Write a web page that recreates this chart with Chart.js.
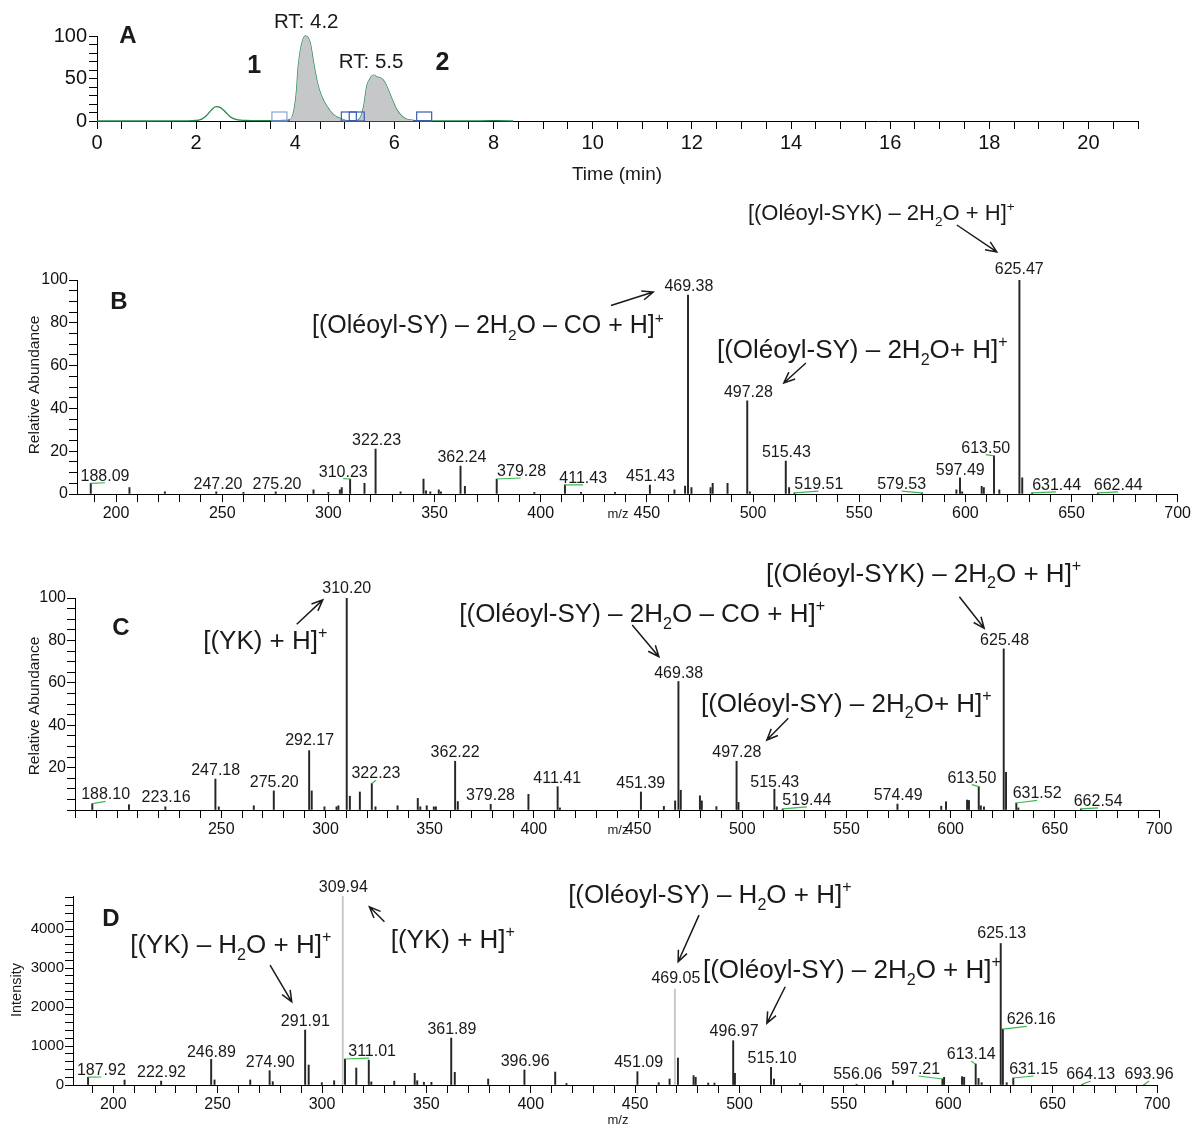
<!DOCTYPE html>
<html>
<head>
<meta charset="utf-8">
<script src="https://cdn.jsdelivr.net/npm/chart.js@4.4.1/dist/chart.umd.min.js"></script>
<style>
    body { margin: 0; background: #fff; width: 1193px; height: 1128px; overflow: hidden; position: relative; }
    canvas { position: absolute; left: 0; }
</style>
</head>
<body>
<canvas id="chartA" width="1193" height="190" style="top:0px"></canvas>
<canvas id="chartB" width="1193" height="330" style="top:190px"></canvas>
<canvas id="chartC" width="1193" height="335" style="top:520px"></canvas>
<canvas id="chartD" width="1193" height="273" style="top:855px"></canvas>
<script>
const FONT = '"Liberation Sans", Arial, Helvetica, sans-serif';

// Panel A - extracted ion chromatogram (time in min, relative signal)
const rtTime = [0, 1, 1.8, 2.0, 2.1, 2.2, 2.3, 2.4, 2.5, 2.6, 2.7, 2.8, 2.9, 3.0, 3.3, 3.6, 3.8, 3.89, 3.96, 4.02, 4.06, 4.12, 4.2, 4.3, 4.37, 4.45, 4.53, 4.64, 4.77, 4.91, 5.01, 5.1, 5.2, 5.27, 5.38, 5.44, 5.51, 5.58, 5.64, 5.74, 5.81, 5.88, 5.97, 6.05, 6.15, 6.25, 6.38, 6.5, 6.8, 7.2, 7.6, 7.9, 8.0, 8.1, 8.4];
const rtSignal = [0, 0, 0.2, 0.6, 2, 6, 12.5, 17, 15.5, 10, 4.5, 2, 1, 0.7, 0.5, 0.5, 0.8, 1.6, 9, 32, 64, 88, 100, 92, 68, 44, 29, 17, 7.5, 2.8, 0.8, 0.4, 0.5, 1, 17, 40, 50, 54, 52, 50, 45, 36, 23, 13, 5.5, 2, 0.8, 0.4, 0.2, 0.1, 0.1, 0.3, 0.5, 0.3, 0];
const peakWindows = [[3.89, 5.1], [5.2, 6.38]];
const boundaryTimes = [3.68, 5.08, 5.24, 6.6];
const rtLabels = ['RT: 4.2', 'RT: 5.5'];
const fractionLabels = ['1', '2'];

// Panel B - MS/MS of fraction 1
const mzB = [188.09, 206.3, 223, 247.20, 260, 275.20, 293, 300, 305.4, 306.3, 310.23, 317, 322.23, 334, 344.8, 346, 348, 352, 353, 362.24, 364.3, 379.28, 397, 411.43, 419, 435, 451.43, 463, 468, 469.38, 471, 480, 481, 488, 497.28, 498.5, 515.43, 517, 519.51, 579.53, 595.8, 597.49, 598.5, 607.7, 608.7, 613.50, 616, 625.47, 626.8, 631.44, 662.44];
const intB = [5, 3, 1, 1, 0.8, 1, 2, 0.8, 2, 3, 7, 5, 21, 1, 7, 1.5, 1, 2, 1, 13, 3.6, 7, 0.8, 4.3, 0.8, 0.8, 4.2, 2, 3.7, 93, 3, 3, 5, 5, 43.5, 1, 15.4, 3, 0.5, 0.5, 2, 7.5, 1, 3.6, 3, 17.8, 2, 100, 7.5, 0.5, 0.5];
const labelledB = [188.09, 247.20, 275.20, 310.23, 322.23, 362.24, 379.28, 411.43, 451.43, 469.38, 497.28, 515.43, 519.51, 579.53, 597.49, 613.50, 625.47, 631.44, 662.44];

// Panel C - MS/MS of fraction 2
const mzC = [188.10, 205.7, 223.16, 247.18, 248.8, 265.6, 275.20, 292.17, 293.4, 299.5, 305.3, 306.2, 310.20, 311.7, 316.5, 322.23, 324, 334.6, 344.3, 345.5, 348.6, 352, 353, 362.22, 363.5, 379.28, 397.4, 411.41, 412.5, 451.39, 462.4, 467.8, 469.38, 470.5, 479.7, 480.6, 487.6, 497.28, 498.2, 515.43, 516.6, 519.44, 574.49, 595.5, 597.8, 607.9, 608.8, 613.50, 614.5, 616, 625.48, 626.6, 631.52, 632.5, 662.54];
const intC = [3, 2.5, 1.5, 14.6, 1.5, 2, 9, 28, 9, 1.5, 1.5, 2, 100, 6.5, 8.5, 12.5, 1.5, 2, 5.5, 1.5, 2, 1.5, 1.5, 23, 4, 2.7, 7.4, 11, 1, 8.5, 1.7, 4.3, 60.6, 9.3, 6.7, 4.3, 1.6, 23, 3.6, 9.8, 1.5, 0.5, 2.8, 1.8, 3.9, 4.7, 4.5, 11, 2, 1.5, 76, 17.8, 3.3, 1, 0.5];
const labelledC = [188.10, 223.16, 247.18, 275.20, 292.17, 310.20, 322.23, 362.22, 379.28, 411.41, 451.39, 469.38, 497.28, 515.43, 519.44, 574.49, 613.50, 625.48, 631.52, 662.54];

// Panel D - MS/MS, absolute intensity
const mzD = [187.92, 205.4, 222.92, 246.89, 248.5, 265.6, 274.90, 276.4, 291.91, 293.6, 299.9, 305.8, 309.94, 311.01, 316.4, 322.4, 323.6, 334.6, 344.4, 345.6, 348.8, 352.4, 361.89, 363.6, 379.6, 396.96, 411.7, 417.1, 451.09, 461.3, 466.5, 469.05, 470.5, 478, 479, 485, 488, 496.97, 497.8, 515.10, 516.5, 529, 556.06, 573.5, 597.21, 598, 606.6, 607.6, 613.14, 614.5, 616, 625.13, 626.16, 628, 631.15, 664.13, 693.96];
const intD = [200, 128, 100, 658, 130, 130, 368, 85, 1410, 513, 60, 110, 4850, 667, 436, 640, 80, 100, 300, 110, 70, 70, 1205, 325, 154, 385, 333, 40, 342, 60, 154, 2460, 692, 240, 197, 50, 50, 1137, 300, 453, 154, 40, 20, 111, 154, 197, 214, 200, 538, 171, 60, 3632, 1436, 60, 180, 15, 15];
const labelledD = [187.92, 222.92, 246.89, 274.90, 291.91, 309.94, 311.01, 361.89, 396.96, 451.09, 469.05, 496.97, 515.10, 556.06, 597.21, 613.14, 625.13, 626.16, 631.15, 664.13, 693.96];

// where each peak label sits (m/z, value of its baseline)
const labelPosB = [[194.8, 6.2], [248, 2.3], [275.8, 2.3], [307, 8.1], [322.7, 22.9], [362.9, 14.8], [391, 8.4], [420, 5.2], [451.7, 6.1], [469.8, 94.9], [497.8, 45.5], [515.7, 17.3], [531, 2.3], [570, 2.3], [597.6, 8.9], [609.6, 19.3], [625.4, 103], [643, 1.9], [672, 1.9]];
const labelPosC = [[194.5, 5], [223.5, 3.6], [247.3, 16.5], [275.4, 11], [292.4, 30.7], [310.2, 102.2], [324.2, 15], [362.2, 25.1], [379.2, 4.7], [411.2, 12.9], [451.3, 10.2], [469.5, 62.1], [497.4, 24.8], [515.6, 11], [531, 2.4], [574.8, 4.7], [610.2, 12.9], [625.9, 77.8], [641.5, 5.5], [670.8, 1.9]];
const labelPosD = [[194.3, 256], [223.1, 197], [247, 726], [275.2, 470], [292, 1521], [310.2, 4957], [324, 743], [362.2, 1308], [397.3, 487], [451.7, 470], [469.5, 2607], [497.4, 1265], [515.6, 556], [556.6, 154], [584.4, 282], [611, 658], [625.6, 3761], [639.7, 1556], [640.9, 282], [668.2, 154], [696.2, 154]];

// fragment annotations: text (_ = subscript, ^ = superscript), anchor, arrow
const notesB = [
    { text: '[(Oléoyl-SYK) – 2H_2O + H]^+', at: [497.6, 128], size: 22 },
    { text: '[(Oléoyl-SY) – 2H_2O – CO + H]^+', at: [292.3, 75.2], size: 25 },
    { text: '[(Oléoyl-SY) – 2H_2O+ H]^+', at: [483, 63.6], size: 26 }
];
const arrowsB = [[596, 125.7, 614.8, 113.1], [433.1, 88.1, 453, 94.4], [524.9, 61.2, 514.5, 51.9]];
const notesC = [
    { text: '[(YK) + H]^+', at: [241.3, 75.9], size: 26 },
    { text: '[(Oléoyl-SY) – 2H_2O – CO + H]^+', at: [364.2, 88.8], size: 26 },
    { text: '[(Oléoyl-SYK) – 2H_2O + H]^+', at: [511.4, 107.7], size: 26 },
    { text: '[(Oléoyl-SY) – 2H_2O+ H]^+', at: [480.2, 46.4], size: 26 }
];
const arrowsC = [[286.2, 87.6, 298.7, 99.1], [447.2, 87.3, 460, 72.3], [604.2, 100.6, 616.1, 85.7], [522.1, 43.3, 511.8, 33]];
const notesD = [
    { text: '[(YK) – H_2O + H]^+', at: [208.1, 3385], size: 26 },
    { text: '[(YK) + H]^+', at: [332.9, 3505], size: 26 },
    { text: '[(Oléoyl-SY) – H_2O + H]^+', at: [417.9, 4667], size: 26 },
    { text: '[(Oléoyl-SY) – 2H_2O + H]^+', at: [482.5, 2736], size: 26 }
];
const arrowsD = [[275.1, 3077, 285.5, 2136], [329.9, 4187, 322.7, 4572], [480.6, 4359, 470.6, 3162], [521.9, 2521, 513.1, 1582]];

Chart.defaults.font.family = FONT;
Chart.defaults.color = '#111';

// Text with simple sub/superscript markup
function drawRich(ctx, str, x, y, size) {
    const parts = [];
    let buf = '';
    for (let i = 0; i < str.length; i++) {
        const c = str[i];
        if ((c === '_' || c === '^') && i + 1 < str.length) {
            if (buf) parts.push({ t: buf, m: 0 });
            buf = '';
            parts.push({ t: str[i + 1], m: c === '_' ? 1 : -1 });
            i++;
        } else {
            buf += c;
        }
    }
    if (buf) parts.push({ t: buf, m: 0 });
    let cx = x;
    ctx.textAlign = 'left';
    ctx.textBaseline = 'alphabetic';
    parts.forEach(p => {
        const s = p.m ? size * 0.62 : size;
        ctx.font = s + 'px ' + FONT;
        const dy = p.m === 1 ? size * 0.26 : (p.m === -1 ? -size * 0.42 : 0);
        ctx.fillText(p.t, cx, y + dy);
        cx += ctx.measureText(p.t).width;
    });
}

function drawArrow(ctx, x1, y1, x2, y2) {
    const a = Math.atan2(y2 - y1, x2 - x1);
    const h = 12, w = 0.4;
    ctx.beginPath();
    ctx.moveTo(x1, y1);
    ctx.lineTo(x2, y2);
    ctx.moveTo(x2 - h * Math.cos(a - w), y2 - h * Math.sin(a - w));
    ctx.lineTo(x2, y2);
    ctx.lineTo(x2 - h * Math.cos(a + w), y2 - h * Math.sin(a + w));
    ctx.stroke();
}

function axis(o) {
    return {
        type: 'linear',
        min: o.min,
        max: o.max,
        offset: false,
        bounds: 'ticks',
        border: { display: true, color: '#000', width: 1 },
        grid: { display: true, drawOnChartArea: false, drawTicks: true, tickLength: o.tick, color: '#000', lineWidth: 1, offset: false },
        ticks: {
            stepSize: o.step,
            includeBounds: false,
            autoSkip: false,
            maxRotation: 0,
            minRotation: 0,
            padding: o.pad,
            color: '#111',
            font: { size: o.font, family: FONT },
            callback: v => (o.show(v) ? String(v) : '')
        },
        afterFit: s => {
            if (s.isHorizontal()) s.height = o.size;
            else s.width = o.size;
        }
    };
}

function drawText(ctx, text, x, y, font, align) {
    ctx.font = font;
    ctx.textAlign = align || 'center';
    ctx.textBaseline = 'alphabetic';
    ctx.fillText(text, x, y);
}

// ---------- Panel A ----------
const rtPoints = rtTime.map((t, i) => ({ x: t, y: rtSignal[i] }));

new Chart(document.getElementById('chartA'), {
    type: 'line',
    data: {
        datasets: [
            ...peakWindows.map(w => ({
                data: rtPoints.filter(p => p.x >= w[0] && p.x <= w[1]),
                fill: 'origin',
                backgroundColor: '#c6c7c9',
                borderWidth: 0,
                pointRadius: 0,
                cubicInterpolationMode: 'monotone'
            })),
            {
                data: [{ x: Math.min(...boundaryTimes) - 0.15, y: 0 }, { x: Math.max(...boundaryTimes) + 0.15, y: 0 }],
                borderColor: '#2f57b3',
                borderWidth: 1.6,
                pointRadius: 0,
                clip: 4
            },
            {
                data: rtPoints,
                borderColor: '#1f8a48',
                borderWidth: 1.3,
                pointRadius: 0,
                fill: false,
                cubicInterpolationMode: 'monotone',
                clip: 4
            }
        ]
    },
    options: {
        responsive: false,
        animation: false,
        events: [],
        layout: { padding: { left: 17, right: 55, top: 36, bottom: 0 } },
        plugins: { legend: { display: false }, tooltip: { enabled: false } },
        scales: {
            x: axis({ min: 0, max: 21, step: 0.5, tick: 8, pad: 2, font: 20, size: 69, show: v => v % 2 === 0 }),
            y: axis({ min: 0, max: 100, step: 10, tick: 8, pad: 2, font: 20, size: 80, show: v => v % 50 === 0 })
        }
    },
    plugins: [{
        id: 'decorA',
        afterDraw(chart) {
            const { ctx, scales: { x, y } } = chart;
            ctx.save();
            ctx.fillStyle = '#1a1a1a';
            // integration boundary markers
            boundaryTimes.forEach((t, i) => {
                ctx.strokeStyle = i === 0 ? '#8aa2d6' : '#3a5db0';
                ctx.lineWidth = 1.2;
                ctx.strokeRect(x.getPixelForValue(t) - 7.5, y.getPixelForValue(0) - 9, 15, 9);
            });
            const rtPos = [[4.22, 109], [5.53, 62]];
            rtLabels.forEach((s, i) => drawText(ctx, s, x.getPixelForValue(rtPos[i][0]), y.getPixelForValue(rtPos[i][1]), '20.5px ' + FONT));
            const frPos = [[3.17, 56.8], [6.97, 59.5]];
            fractionLabels.forEach((s, i) => drawText(ctx, s, x.getPixelForValue(frPos[i][0]), y.getPixelForValue(frPos[i][1]), 'bold 25px ' + FONT));
            drawText(ctx, 'A', 128, 43, 'bold 24px ' + FONT);
            drawText(ctx, 'Time (min)', 617, 180, '19px ' + FONT);
            ctx.restore();
        }
    }]
});

// ---------- Panels B, C, D ----------
function spectrumChart(id, cfg) {
    return new Chart(document.getElementById(id), {
        type: 'bar',
        data: {
            datasets: [{
                data: cfg.mz.map((m, i) => ({ x: m, y: cfg.val[i] })),
                backgroundColor: cfg.mz.map(m => (cfg.light || []).includes(m) ? '#c8c8c8' : '#262626'),
                barThickness: 1.3,
                borderWidth: 0
            }]
        },
        options: {
            responsive: false,
            animation: false,
            events: [],
            layout: { padding: cfg.pad },
            plugins: { legend: { display: false }, tooltip: { enabled: false } },
            scales: {
                x: axis({ min: cfg.xMin, max: 700, step: 10, tick: 8, pad: 2, font: 16, size: cfg.xH, show: cfg.showX }),
                y: axis({ min: 0, max: cfg.yMax, step: cfg.yStep, tick: 8, pad: 1, font: cfg.yFont || 16, size: 70, show: cfg.showY })
            }
        },
        plugins: [{
            id: 'decor',
            afterDraw(chart) {
                const { ctx, scales: { x, y } } = chart;
                ctx.save();
                ctx.fillStyle = '#1a1a1a';
                // peak labels and their green leader lines
                cfg.labelled.forEach((m, i) => {
                    const k = cfg.mz.indexOf(m);
                    const px = x.getPixelForValue(m);
                    const py = y.getPixelForValue(Math.min(cfg.val[k], cfg.yMax));
                    const lx = x.getPixelForValue(cfg.labelPos[i][0]);
                    const ly = y.getPixelForValue(cfg.labelPos[i][1]);
                    drawText(ctx, m.toFixed(2), lx, ly, '16px ' + FONT);
                    if (Math.abs(lx - px) > 3) {
                        const qx = px + Math.sign(lx - px) * Math.min(Math.abs(lx - px), 24);
                        ctx.strokeStyle = '#3cba4f';
                        ctx.lineWidth = 1.2;
                        ctx.beginPath();
                        ctx.moveTo(px, py);
                        ctx.lineTo(qx, ly + 2);
                        ctx.stroke();
                    }
                });
                ctx.fillStyle = '#1a1a1a';
                cfg.notes.forEach(n => drawRich(ctx, n.text, x.getPixelForValue(n.at[0]), y.getPixelForValue(n.at[1]), n.size));
                ctx.strokeStyle = '#1a1a1a';
                ctx.lineWidth = 1.5;
                cfg.arrows.forEach(a => drawArrow(ctx, x.getPixelForValue(a[0]), y.getPixelForValue(a[1]), x.getPixelForValue(a[2]), y.getPixelForValue(a[3])));
                drawText(ctx, cfg.letter[0], cfg.letter[1], cfg.letter[2], 'bold 24px ' + FONT);
                drawText(ctx, 'm/z', 618, cfg.mzY, '13px ' + FONT);
                ctx.translate(cfg.yTitle[1], cfg.yTitle[2]);
                ctx.rotate(-Math.PI / 2);
                ctx.textBaseline = 'middle';
                ctx.textAlign = 'center';
                ctx.font = cfg.yTitle[3] + 'px ' + FONT;
                ctx.fillText(cfg.yTitle[0], 0, 0);
                ctx.restore();
            }
        }]
    });
}

spectrumChart('chartB', {
    mz: mzB, val: intB, labelled: labelledB, labelPos: labelPosB,
    notes: notesB, arrows: arrowsB,
    xMin: 181.6, yMax: 100, yStep: 5, xH: 26,
    pad: { left: 7, right: 15, top: 90, bottom: 0 },
    showX: v => v % 50 === 0,
    showY: v => v % 20 === 0,
    letter: ['B', 119, 119], mzY: 328, yTitle: ['Relative Abundance', 35, 195, 15.5]
});

spectrumChart('chartC', {
    mz: mzC, val: intC, labelled: labelledC, labelPos: labelPosC,
    notes: notesC, arrows: arrowsC,
    xMin: 179.8, yMax: 100, yStep: 5, xH: 45,
    pad: { left: 5, right: 34, top: 78, bottom: 0 },
    showX: v => v % 50 === 0 && v > 200,
    showY: v => v % 20 === 0 && v > 0,
    letter: ['C', 121, 115], mzY: 314, yTitle: ['Relative Abundance', 35, 186, 15.5]
});

spectrumChart('chartD', {
    mz: mzD, val: intD, labelled: labelledD, labelPos: labelPosD,
    notes: notesD, arrows: arrowsD, light: [309.94, 469.05],
    xMin: 180.7, yMax: 4850, yStep: 200, xH: 43, yFont: 15,
    pad: { left: 3, right: 36, top: 41, bottom: 0 },
    showX: v => v % 50 === 0,
    showY: v => v % 1000 === 0,
    letter: ['D', 111, 71], mzY: 269, yTitle: ['Intensity', 17, 135, 14.5]
});
</script>
</body>
</html>
